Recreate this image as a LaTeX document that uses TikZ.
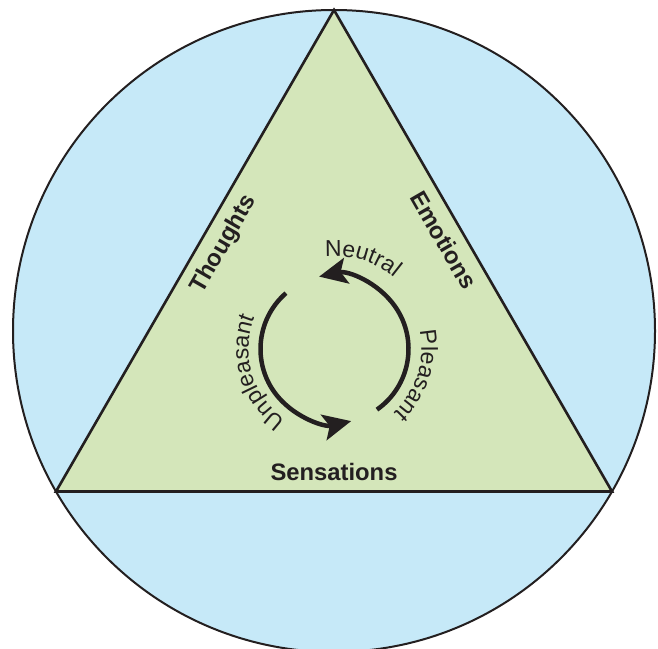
\documentclass[tikz,border=0pt]{standalone}
\usepackage{fontspec}
\setmainfont{Liberation Sans}
\usetikzlibrary{arrows.meta,decorations.text}
\definecolor{skyfill}{RGB}{198,233,248}
\definecolor{leaffill}{RGB}{212,230,186}
\definecolor{ink}{RGB}{35,31,32}
\begin{document}
\begin{tikzpicture}[x=1pt,y=1pt,
  edge label/.style={font=\fontsize{23.8}{28}\selectfont\bfseries, text=ink, inner sep=0pt, text depth=0pt},
  cycle arrow/.style={line width=4.5pt, draw=ink, -{Stealth[length=28pt,width=26pt,inset=6pt]}},
  cycle text/.style={decorate, decoration={text along path, text align=center,
      text={|\fontsize{23}{27}\selectfont\color{ink}|#1}}}
]
\useasboundingbox (0,0) rectangle (658,648);
\clip (0,0) rectangle (658,648);

% outer circle and inscribed triangle
\coordinate (O) at (334,317);
\coordinate (T) at (334,638);
\coordinate (L) at (56,156.5);
\coordinate (R) at (612,156.5);
\filldraw[fill=skyfill, draw=ink, line width=2pt] (O) circle[radius=321];
\filldraw[fill=leaffill, draw=ink, line width=2.6pt, line join=miter] (T) -- (L) -- (R) -- cycle;

% side labels
\node[edge label, rotate=60] (thoughts) at (222,405) {Thoughts};
\node[edge label, rotate=-60] (emotions) at (444,408) {Emotions};
\node[edge label] (sensations) at (334,176) {Sensations};

% feeling-tone cycle
\coordinate (C) at (334.5,299);
\draw[cycle arrow] (C) ++(-55:74) arc[start angle=-55, end angle=102, radius=74];
\draw[cycle arrow] (C) ++(131:74) arc[start angle=131, end angle=283, radius=74];

\path[cycle text=Neutral] (C) ++(118:93) arc[start angle=118, end angle=28, radius=93];
\path[cycle text=Pleasant] (C) ++(32.5:87) arc[start angle=32.5, end angle=-67.5, radius=87];
\path[cycle text=Unpleasant] (C) ++(257:86) arc[start angle=257, end angle=137, radius=86];
\end{tikzpicture}
\end{document}
